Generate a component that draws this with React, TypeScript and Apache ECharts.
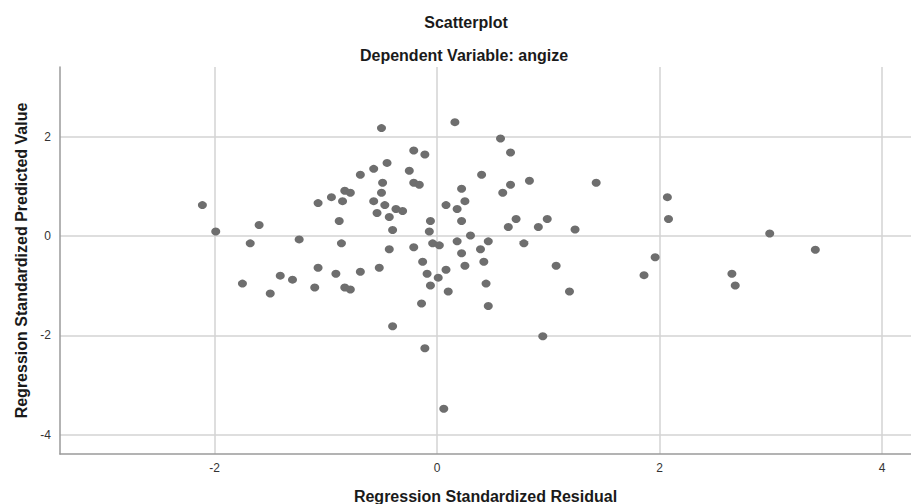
import React, { useEffect, useRef } from "react";
import * as echarts from "echarts";

const titleText = "Scatterplot";
const subtitleText = "Dependent Variable: angize";
const xName = "Regression Standardized Residual";
const yName = "Regression Standardized Predicted Value";

const xTicks = [-2, 0, 2, 4];
const yTicks = [-4, -2, 0, 2];

const residuals = [
  -2.11, -1.99, -1.68, -1.6, -1.24, -1.07, -0.95, -0.85, -0.88, -0.86,
  -0.5, 0.16, 0.57, 0.66, -0.21, -0.11, -0.45, -0.57, -0.69, -0.25,
  0.4, -0.49, -0.21, -0.16, 0.83, 1.43, 0.66, 0.22, -0.83, -0.78,
  -0.5, 0.59, -0.57, -0.47, 0.25, 0.08, -0.37, -0.31, 0.18, -0.54,
  -0.43, -0.06, 0.22, 0.71, 0.99, 0.64, 0.91, 1.24, -0.4, -0.07,
  0.3, -0.04, 0.02, 0.18, 0.46, 0.78, -0.43, -0.21, 0.22, 0.39,
  2.07, 2.08, 2.99, 3.4, 1.96, -1.75, -1.5, -1.41, -1.3, -1.1,
  -1.07, -0.91, -0.69, -0.52, -0.83, -0.78, -0.13, -0.09, 0.08, 0.25,
  0.42, 0.01, -0.06, 0.1, 0.44, 1.07, 1.19, -0.14, 0.46, -0.4,
  -0.11, 0.95, 0.06, 1.86, 2.65, 2.68,
];

const predicted = [
  0.62, 0.09, -0.15, 0.22, -0.07, 0.66, 0.78, 0.7, 0.3, -0.15,
  2.17, 2.29, 1.96, 1.68, 1.72, 1.64, 1.47, 1.35, 1.23, 1.31,
  1.23, 1.07, 1.07, 1.03, 1.11, 1.07, 1.03, 0.95, 0.91, 0.87,
  0.87, 0.87, 0.7, 0.62, 0.7, 0.62, 0.54, 0.5, 0.54, 0.46,
  0.38, 0.3, 0.3, 0.34, 0.34, 0.18, 0.18, 0.13, 0.12, 0.09,
  0.01, -0.15, -0.19, -0.11, -0.11, -0.15, -0.27, -0.23, -0.35, -0.27,
  0.78, 0.34, 0.05, -0.28, -0.43, -0.96, -1.16, -0.8, -0.88, -1.04,
  -0.64, -0.76, -0.72, -0.64, -1.04, -1.08, -0.52, -0.76, -0.68, -0.6,
  -0.52, -0.84, -1.0, -1.12, -0.96, -0.6, -1.12, -1.36, -1.41, -1.82,
  -2.26, -2.02, -3.48, -0.79, -0.76, -1.0,
];

const FONT = "'Liberation Sans', Arial, sans-serif";

export default function App() {
  const ref = useRef<HTMLDivElement>(null);

  useEffect(() => {
    if (!ref.current) return;
    const chart = echarts.init(ref.current, undefined, { renderer: "svg" });
    const points = residuals.map((x, i) => [x, predicted[i]]);
    const gridLine = { show: true, lineStyle: { color: "#d3d3d3", width: 1.5 } };
    chart.setOption({
      animation: false,
      backgroundColor: "#ffffff",
      textStyle: { fontFamily: FONT },
      graphic: [
        {
          type: "text",
          x: 466,
          y: 22,
          style: {
            text: titleText,
            textAlign: "center",
            textVerticalAlign: "middle",
            font: `bold 16px ${FONT}`,
            fill: "#1a1a1a",
          },
        },
        {
          type: "text",
          x: 464,
          y: 55,
          style: {
            text: subtitleText,
            textAlign: "center",
            textVerticalAlign: "middle",
            font: `bold 16px ${FONT}`,
            fill: "#1a1a1a",
          },
        },
      ],
      grid: {
        left: 60,
        right: 0,
        top: 67,
        bottom: 50,
        containLabel: false,
        outerBoundsMode: "none",
      },
      xAxis: {
        type: "value",
        min: -3.39,
        max: 4.26,
        name: xName,
        nameLocation: "middle",
        nameGap: 34,
        nameTextStyle: { fontSize: 16, fontWeight: "bold", color: "#1a1a1a", fontFamily: FONT },
        axisLine: { show: true, onZero: false, lineStyle: { color: "#9a9a9a", width: 1.5 } },
        axisTick: { show: false, customValues: xTicks },
        axisLabel: { customValues: xTicks, color: "#333333", fontSize: 12, margin: 8, fontFamily: FONT },
        splitLine: gridLine,
      },
      yAxis: {
        type: "value",
        min: -4.39,
        max: 3.4,
        name: yName,
        nameLocation: "middle",
        nameGap: 27,
        nameTextStyle: { fontSize: 16, fontWeight: "bold", color: "#1a1a1a", fontFamily: FONT },
        axisLine: { show: true, onZero: false, lineStyle: { color: "#9a9a9a", width: 1.5 } },
        axisTick: { show: false, customValues: yTicks },
        axisLabel: { customValues: yTicks, color: "#333333", fontSize: 12, margin: 9, fontFamily: FONT },
        splitLine: gridLine,
      },
      series: [
        {
          type: "scatter",
          data: points,
          symbol: "circle",
          symbolSize: [9, 8],
          z: 10,
          itemStyle: { color: "#6e6e6e", opacity: 1 },
        },
      ],
    });
    return () => chart.dispose();
  }, []);

  return (
    <div
      ref={ref}
      style={{ position: "fixed", left: 0, top: 0, width: 911, height: 504 }}
    />
  );
}
